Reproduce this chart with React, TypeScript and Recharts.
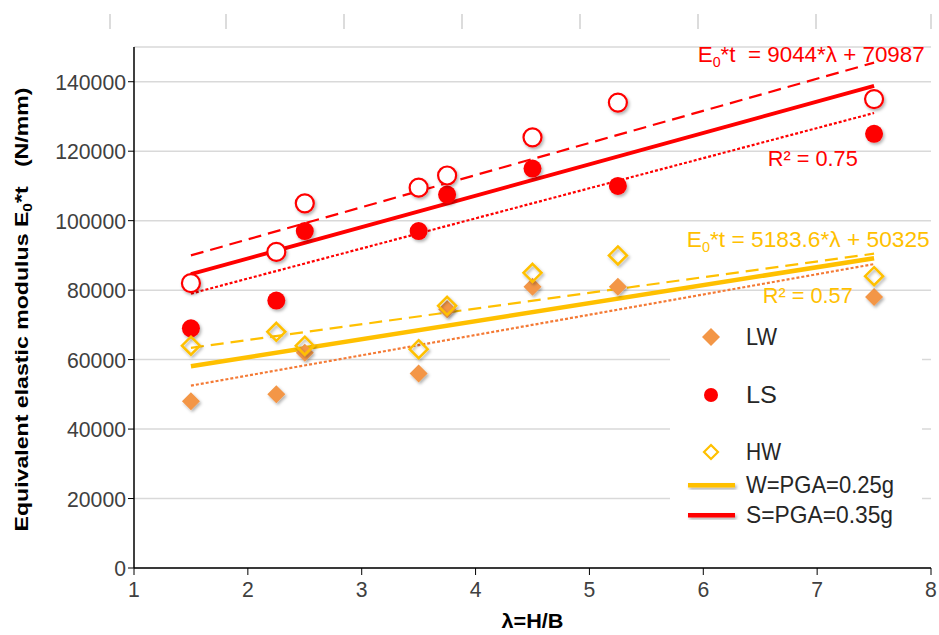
import React from "react";
import { ComposedChart, Scatter, XAxis, YAxis, CartesianGrid, ReferenceDot } from "recharts";

// lambda = H/B positions of the tested walls
const lambdaValues = [1.5, 2.25, 2.5, 3.5, 3.75, 4.5, 5.25, 7.5];
const lwValues = [48000, 50000, 62000, 56000, 74500, 81000, 81000, 78000];
const lsValues = [69000, 77000, 97000, 97000, 107500, 115000, 110000, 125000];
const hwValues = [64000, 68000, 64000, 63000, 75500, 85000, 90000, 84000];
const hsValues = [82000, 91000, 105000, 109500, 113000, 124000, 134000, 135000];

// trend line end points (read at lambda 1.5 and 7.5)
const fitLambda = [1.5, 7.5];
const sFit = [84600, 138800];
const hsFit = [90000, 145500];
const lsFit = [79000, 131000];
const wFit = [58100, 89200];
const hwFit = [63400, 90500];
const lwFit = [52500, 87500];

const xTicks = [1, 2, 3, 4, 5, 6, 7, 8];
const yTicks = [0, 20000, 40000, 60000, 80000, 100000, 120000, 140000];

const RED = "#FF0000";
const YELLOW = "#FFC000";
const ORANGE = "#F39646";
const ORANGE_DOT = "#F47A35";
const FONT = "'Liberation Sans', Arial, sans-serif";

const toPoints = (ys: number[]) => lambdaValues.map((x, i) => ({ x, y: ys[i] }));
const toFit = (ys: number[]) => fitLambda.map((x, i) => ({ x, y: ys[i] }));

const Empty = () => <g />;

const FilledDiamond = ({ cx, cy }: any) => (
  <path d={`M${cx},${cy - 9}L${cx + 9},${cy}L${cx},${cy + 9}L${cx - 9},${cy}Z`} fill={ORANGE} filter="url(#sh)" />
);
const OpenDiamond = ({ cx, cy }: any) => (
  <path d={`M${cx},${cy - 9}L${cx + 9},${cy}L${cx},${cy + 9}L${cx - 9},${cy}Z`} fill="#fff" fillOpacity={0} stroke={YELLOW} strokeWidth={2.5} filter="url(#sh)" />
);
const FilledCircle = ({ cx, cy }: any) => <circle cx={cx} cy={cy} r={9} fill={RED} filter="url(#sh)" />;
const OpenCircle = ({ cx, cy }: any) => <circle cx={cx} cy={cy} r={9} fill="#fff" stroke={RED} strokeWidth={2.2} filter="url(#sh)" />;

const YTick = ({ x, y, payload }: any) => {
  const s = String(payload.value);
  return (
    <text x={x} y={y} dy={8} textAnchor="end" fontSize={22} fill="#404040" fontFamily={FONT}
      textLength={s.length * 11.8} lengthAdjust="spacingAndGlyphs">{s}</text>
  );
};
const XTick = ({ x, y, payload }: any) => (
  <text x={x} y={y} dy={20} textAnchor="middle" fontSize={22} fill="#404040" fontFamily={FONT}
    textLength={11.8} lengthAdjust="spacingAndGlyphs">{payload.value}</text>
);

const annotations = [
  { x: 7.945, y: 145600, color: RED, kind: "eq", text: "*t  = 9044*\u03bb + 70987", width: 227 },
  { x: 7.357, y: 115700, color: RED, kind: "r2", text: "R\u00b2 = 0.75", width: 90 },
  { x: 7.989, y: 92400, color: YELLOW, kind: "eq", text: "*t = 5183.6*\u03bb + 50325", width: 243 },
  { x: 7.313, y: 76260, color: YELLOW, kind: "r2", text: "R\u00b2 = 0.57", width: 90 },
];

const AnnoLabel = ({ viewBox, a }: any) => {
  const x = viewBox.x + viewBox.width / 2;
  const y = viewBox.y + viewBox.height / 2;
  return (
    <text x={x} y={y} textAnchor="end" fill={a.color} fontSize={22} fontFamily={FONT}
      textLength={a.width} lengthAdjust="spacingAndGlyphs" style={{ whiteSpace: "pre" }}>
      {a.kind === "eq" ? (
        <>
          E<tspan fontSize={14} dy={5}>0</tspan><tspan dy={-5}>{a.text}</tspan>
        </>
      ) : a.text}
    </text>
  );
};

const YTitle = ({ viewBox }: any) => {
  const cx = 22;
  const cy = viewBox.y + viewBox.height / 2 + 2;
  return (
    <text x={cx} y={cy} transform={`rotate(-90 ${cx} ${cy})`} textAnchor="middle" dy={6} fontSize={18}
      fontWeight="bold" fill="#000" fontFamily={FONT} textLength={444} lengthAdjust="spacingAndGlyphs"
      style={{ whiteSpace: "pre" }}>
      Equivalent elastic modulus E<tspan fontSize={12} dy={4}>0</tspan><tspan dy={-4}>*t   (N/mm)</tspan>
    </text>
  );
};

const XTitle = ({ viewBox }: any) => (
  <text x={viewBox.x + viewBox.width / 2} y={viewBox.y + 60} textAnchor="middle" fontSize={21}
    fontWeight="bold" fill="#000" fontFamily={FONT} textLength={62} lengthAdjust="spacingAndGlyphs">
    {"\u03bb=H/B"}
  </text>
);

const topTickX = [110, 226, 344, 462, 580, 698, 816, 931];

function LegendBox() {
  const txt = (y: number, s: string, w: number) => (
    <text x={746} y={y + 8} fontSize={24} fill="#262626" fontFamily={FONT} textLength={w} lengthAdjust="spacingAndGlyphs">{s}</text>
  );
  return (
    <g>
      <rect x={670} y={312} width={252} height={222} fill="#fff" />
      <path d="M711,328L720,337L711,346L702,337Z" fill={ORANGE} />
      {txt(337, "LW", 31)}
      <circle cx={711} cy={395} r={7} fill={RED} />
      {txt(395, "LS", 31)}
      <path d="M711,445L718,452L711,459L704,452Z" fill="#fff" stroke={YELLOW} strokeWidth={2.2} />
      {txt(452, "HW", 35)}
      <rect x={688} y={483} width={47} height={4.5} fill={YELLOW} filter="url(#sh)" />
      {txt(485, "W=PGA=0.25g", 148)}
      <rect x={688} y={513} width={47} height={4.5} fill={RED} filter="url(#sh)" />
      {txt(515, "S=PGA=0.35g", 147)}
    </g>
  );
}

export default function App() {
  return (
    <div style={{ position: "absolute", left: 0, top: 0, width: 939, height: 635, background: "#fff" }}>
      <ComposedChart width={939} height={635} margin={{ top: 47, right: 8, bottom: 0, left: 0 }}>
        <CartesianGrid vertical={false} stroke="#D9D9D9" strokeWidth={1.5} />
        <XAxis type="number" dataKey="x" domain={[1, 8]} ticks={xTicks} height={67}
          axisLine={{ stroke: "#000", strokeWidth: 1.5 }} tickLine={{ stroke: "#000" }} tickSize={7}
          tick={<XTick />} label={<XTitle />} allowDataOverflow />
        <YAxis type="number" dataKey="y" domain={[0, 150000]} ticks={yTicks} width={134}
          axisLine={{ stroke: "#000", strokeWidth: 1.5 }} tickLine={{ stroke: "#000" }} tickSize={6}
          tick={<YTick />} label={<YTitle />} allowDataOverflow />

        <Scatter data={toFit(lwFit)} line={{ stroke: ORANGE_DOT, strokeWidth: 2.2, strokeDasharray: "3 2" }} shape={Empty} isAnimationActive={false} />
        <Scatter data={toFit(hwFit)} line={{ stroke: YELLOW, strokeWidth: 2.2, strokeDasharray: "13 7" }} shape={Empty} isAnimationActive={false} />
        <Scatter data={toFit(wFit)} line={{ stroke: YELLOW, strokeWidth: 4.5 }} shape={Empty} isAnimationActive={false} />
        <Scatter data={toFit(lsFit)} line={{ stroke: RED, strokeWidth: 2.2, strokeDasharray: "3 2" }} shape={Empty} isAnimationActive={false} />
        <Scatter data={toFit(hsFit)} line={{ stroke: RED, strokeWidth: 2.2, strokeDasharray: "13 7" }} shape={Empty} isAnimationActive={false} />
        <Scatter data={toFit(sFit)} line={{ stroke: RED, strokeWidth: 4 }} shape={Empty} isAnimationActive={false} />

        <Scatter name="LW" data={toPoints(lwValues)} shape={FilledDiamond} isAnimationActive={false} />
        <Scatter name="LS" data={toPoints(lsValues)} shape={FilledCircle} isAnimationActive={false} />
        <Scatter name="HW" data={toPoints(hwValues)} shape={OpenDiamond} isAnimationActive={false} />
        <Scatter name="HS" data={toPoints(hsValues)} shape={OpenCircle} isAnimationActive={false} />

        {annotations.map((a, i) => (
          <ReferenceDot key={i} x={a.x} y={a.y} r={1} fill="none" stroke="none" ifOverflow="visible"
            label={(p: any) => <AnnoLabel {...p} a={a} />} />
        ))}
      </ComposedChart>
      <svg width={939} height={635} style={{ position: "absolute", left: 0, top: 0, pointerEvents: "none" }}>
        <defs>
          <filter id="sh" x="-50%" y="-50%" width="200%" height="200%">
            <feDropShadow dx={1.5} dy={2} stdDeviation={1.5} floodColor="#000" floodOpacity={0.3} />
          </filter>
        </defs>
        {topTickX.map((x) => (
          <line key={x} x1={x} x2={x} y1={14} y2={29} stroke="#D0D0D0" strokeWidth={1.5} />
        ))}
        <LegendBox />
      </svg>
    </div>
  );
}
